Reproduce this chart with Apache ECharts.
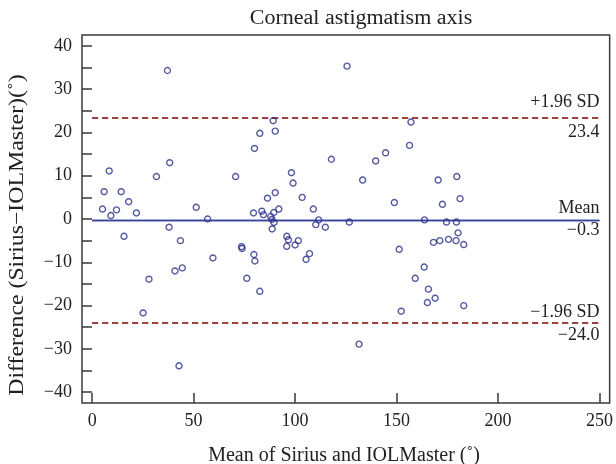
<!DOCTYPE html>
<html>
<head>
<meta charset="utf-8">
<script src="https://cdn.jsdelivr.net/npm/echarts@6/dist/echarts.min.js"></script>
<style>
  html, body { margin: 0; padding: 0; background: #fff; }
  #chart { width: 616px; height: 464px; }
</style>
</head>
<body>
<div id="chart"></div>
<script>
// Bland-Altman data
const meanVals = [
    37.1, 38.2, 31.7, 8.4, 5.9, 14.3, 18.0, 5.1, 9.2, 12.0,
    21.8, 15.7, 37.9, 51.3, 56.9, 70.7, 80.0, 82.6, 89.2, 90.2,
    98.2, 99.0, 103.5, 90.2, 86.4, 92.0, 79.5, 83.6, 84.4, 89.5,
    88.0, 88.6, 89.6, 88.7, 109.0, 111.6, 110.2, 114.9, 117.9, 95.9,
    43.5, 125.6, 157.1, 156.4, 144.6, 139.7, 133.3, 148.9, 170.5, 179.7,
    172.6, 181.3, 126.7, 163.8, 174.6, 179.5, 180.3, 168.2, 171.3, 175.6,
    179.3, 183.1, 151.3, 163.6, 159.2, 165.7, 165.2, 169.0, 183.1, 152.3,
    131.5, 28.0, 25.1, 40.8, 44.4, 42.8, 59.5, 73.6, 73.9, 76.2,
    79.7, 80.2, 82.6, 96.7, 95.9, 100.0, 101.6, 105.4, 107.1
];
const diffVals = [
    34.3, 13.0, 9.8, 11.1, 6.3, 6.3, 4.0, 2.3, 0.8, 2.1,
    1.4, -4.0, -1.9, 2.7, 0.0, 9.8, 16.3, 19.8, 22.7, 20.3,
    10.7, 8.3, 5.0, 6.1, 4.8, 2.3, 1.4, 1.8, 1.0, 1.5,
    0.6, -0.1, -0.8, -2.3, 2.3, -0.2, -1.3, -1.9, 13.8, -4.0,
    -5.0, 35.3, 22.4, 17.0, 15.3, 13.4, 9.0, 3.8, 9.0, 9.8,
    3.4, 4.7, -0.7, -0.2, -0.7, -0.7, -3.2, -5.4, -5.0, -4.7,
    -5.0, -5.9, -7.0, -11.1, -13.7, -16.2, -19.3, -18.3, -20.0, -21.3,
    -28.9, -13.9, -21.7, -12.0, -11.3, -33.9, -9.0, -6.4, -6.8, -13.7,
    -8.2, -9.7, -16.7, -4.8, -6.3, -6.0, -5.0, -9.3, -8.0
];

const meanDiff = -0.3;
const upperLoA = 23.4;
const lowerLoA = -24.0;

const xTicks = [0, 50, 100, 150, 200, 250];
const yLabels = [-40, -30, -20, -10, 0, 10, 20, 30, 40];
const yTicks = [-40, -35, -30, -25, -20, -15, -10, -5, 0, 5, 10, 15, 20, 25, 30, 35, 40];

const font = '"Liberation Serif", "DejaVu Serif", serif';
const minus = v => String(v).replace('-', '\u2212');

let points = meanVals.map((m, i) => [m, diffVals[i]]);

function refLine(v, top, bottom, color, type, width, dTop, dBottom) {
    let seg = (txt, pos, d) => [
        {coord: [xTicks[0], v], label: {formatter: txt, position: pos, distance: [0, d]}},
        {coord: [xTicks[xTicks.length - 1], v]}
    ];
    return {
        type: 'scatter', data: [], silent: true,
        markLine: {
            symbol: 'none', silent: true, animation: false,
            lineStyle: {color: color, type: type, width: width},
            label: {color: '#222', fontFamily: font, fontSize: 18},
            data: [seg(top, 'insideEndTop', dTop), seg(bottom, 'insideEndBottom', dBottom)]
        }
    };
}

let chart = echarts.init(document.getElementById('chart'));
let option = {
    animation: false,
    grid: {
        left: 82, top: 35, width: 528, height: 368,
        show: true, borderColor: '#3a3a3a', borderWidth: 1.5
    },
    xAxis: {
        type: 'value', min: -5, max: 255,
        axisLine: {show: false, onZero: false},
        splitLine: {show: false},
        axisTick: {show: true, inside: true, length: 10, customValues: xTicks,
            lineStyle: {color: '#3a3a3a', width: 1.5}},
        axisLabel: {customValues: xTicks, margin: 9, color: '#222',
            fontFamily: font, fontSize: 18, formatter: minus}
    },
    yAxis: {
        type: 'value', min: -42.5, max: 42.5,
        axisLine: {show: false, onZero: false},
        splitLine: {show: false},
        axisTick: {show: true, inside: true, length: 10, customValues: yTicks,
            lineStyle: {color: '#3a3a3a', width: 1.5}},
        axisLabel: {customValues: yLabels, margin: 10, color: '#222',
            fontFamily: font, fontSize: 18, formatter: minus}
    },
    graphic: [
        {type: 'text', x: 361, y: 19, scaleX: 1.1, silent: true,
            style: {text: 'Corneal astigmatism axis', font: '20px ' + font, fill: '#222',
                align: 'center', verticalAlign: 'middle'}},
        {type: 'text', x: 344, y: 456, silent: true,
            style: {text: 'Mean of Sirius and IOLMaster (\u02DA)', font: '20px ' + font, fill: '#222',
                align: 'center', verticalAlign: 'middle'}},
        {type: 'text', x: 18, y: 235, rotation: Math.PI / 2, scaleX: 1.19, silent: true,
            style: {text: 'Difference (Sirius\u2212IOLMaster)(\u02DA)', font: '20px ' + font, fill: '#222',
                align: 'center', verticalAlign: 'middle'}}
    ],
    series: [
        refLine(meanDiff, 'Mean', minus(meanDiff.toFixed(1)), '#3344a0', 'solid', 1.4, 3, 1),
        refLine(upperLoA, '+1.96 SD', upperLoA.toFixed(1), '#a0403f', [6, 4], 2, 6, 6),
        refLine(lowerLoA, '\u22121.96 SD', minus(lowerLoA.toFixed(1)), '#a0403f', [6, 4], 2, 2, 3),
        {
            type: 'scatter',
            data: points,
            symbol: 'circle',
            symbolSize: 6,
            itemStyle: {color: 'rgba(0,0,0,0)', borderColor: '#2b2f8a', borderWidth: 1.4},
            z: 5
        }
    ]
};
chart.setOption(option);
</script>
</body>
</html>
